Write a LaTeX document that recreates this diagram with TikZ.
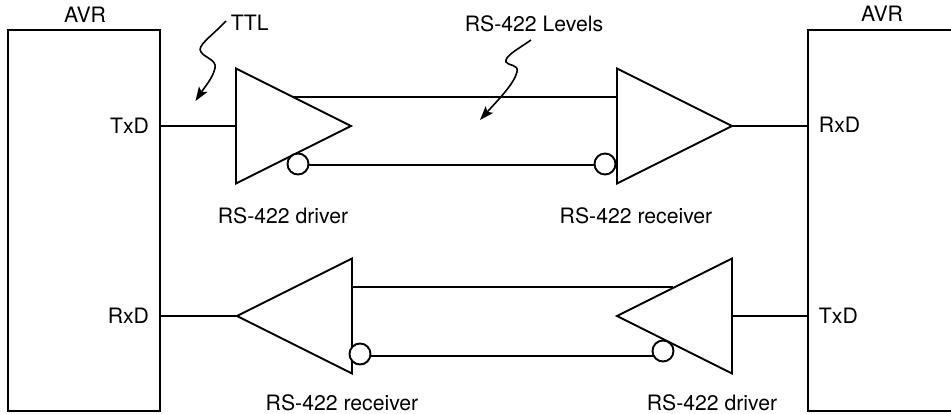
\documentclass[tikz,border=0pt]{standalone}
\usepackage{fontspec}
\setmainfont{TeX Gyre Heros}
\usepackage{tikz}
\usetikzlibrary{arrows.meta,shapes.geometric}

\begin{document}
\begin{tikzpicture}[
  x=1pt, y=-1pt,
  font=\fontsize{21.2}{24}\selectfont,
  line width=1.9pt,
  avr/.style={draw, minimum width=152.5pt, minimum height=381pt, inner sep=0pt, outer sep=0pt},
  gate/.style={draw, isosceles triangle, isosceles triangle stretches, minimum width=115pt, minimum height=115pt, inner sep=0pt, outer sep=0pt, anchor=apex},
  bubble/.style={draw, circle, fill=white, minimum size=21pt, inner sep=0pt, outer sep=0pt},
  txt/.style={inner sep=0pt},
  squiggle/.style={line width=1.6pt, -{Stealth[length=14pt, width=10pt, inset=3pt]}}
]
\useasboundingbox (0,0) rectangle (951,414);

\node[avr] (avrl) at (84,220.5) {};
\node[avr] (avrr) at (884,220.5) {};
\node[txt] (avrlt) at (85,14.5) {AVR};
\node[txt] (avrrt) at (882,14) {AVR};

\node[gate, shape border rotate=0] (drva) at (351,126) {};
\node[gate, shape border rotate=0] (recva) at (732,126) {};
\node[gate, shape border rotate=180] (recvb) at (237,316) {};
\node[gate, shape border rotate=180] (drvb) at (617,316) {};

\node[bubble] (bubda) at (298,164) {};
\node[bubble] (bubra) at (605,164) {};
\node[bubble] (bubrb) at (360,354) {};
\node[bubble] (bubdb) at (663,351) {};

\node[txt, anchor=east] (txdl) at (150,126) {TxD};
\node[txt, anchor=east] (rxdl) at (150,316) {RxD};
\node[txt, anchor=west] (rxdr) at (818,125) {RxD};
\node[txt, anchor=west] (txdr) at (818,316) {TxD};

\node[txt, anchor=west] (ttl) at (230,23) {TTL};
\node[txt] (lvl) at (534,24) {RS-422 Levels};
\node[txt] (ldrva) at (283,216) {RS-422 driver};
\node[txt] (lrecva) at (636,216) {RS-422 receiver};
\node[txt] (lrecvb) at (342,403) {RS-422 receiver};
\node[txt] (ldrvb) at (712,403) {RS-422 driver};

\coordinate (topa) at (293,97);
\coordinate (topb) at (673,287);
\coordinate (lowa) at (450,165);
\coordinate (lowb) at (500,356);
\coordinate (ttlfrom) at (226,21);
\coordinate (ttlto) at (195.5,101);
\coordinate (lvlfrom) at (531,40);
\coordinate (lvlto) at (480,120);

% wires
\draw (avrl.east |- drva.lower side) -- (drva.lower side);
\draw (recva.apex) -- (avrr.west |- recva.apex);
\draw (avrl.east |- recvb.apex) -- (recvb.apex);
\draw (drvb.lower side) -- (avrr.west |- drvb.lower side);
\draw (topa) -- (recva.lower side |- topa);
\draw (bubda.east |- lowa) -- (bubra.west |- lowa);
\draw (recvb.lower side |- topb) -- (topb);
\draw (bubrb.east |- lowb) -- (bubdb.west |- lowb);

% arrows
\draw[squiggle] (ttlfrom) .. controls (212,36) and (196,46) .. (201,52)
  .. controls (205,58) and (217,60) .. (215,68)
  .. controls (213,78) and (204,88) .. (ttlto);
\draw[squiggle] (lvlfrom) .. controls (520,48) and (504,56) .. (506,62)
  .. controls (508,66) and (519,64) .. (517,72)
  .. controls (514,84) and (498,100) .. (lvlto);
\end{tikzpicture}
\end{document}
